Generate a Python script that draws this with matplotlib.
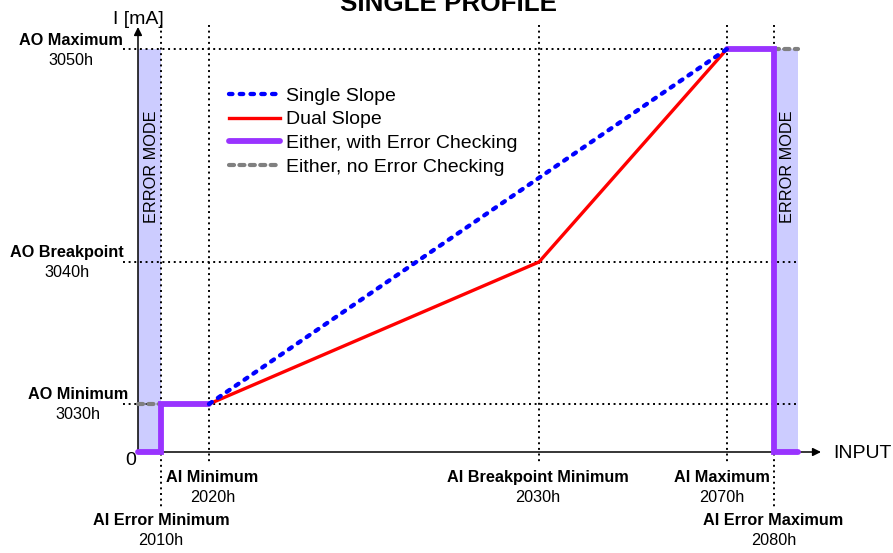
import matplotlib
matplotlib.use("Agg")
import matplotlib.pyplot as plt

plt.rcParams['font.family'] = ['Liberation Sans', 'DejaVu Sans']

# ---- data (positions measured in drawing units from the origin) ----
ai_labels = ["AI Error Minimum", "AI Minimum", "AI Breakpoint Minimum", "AI Maximum", "AI Error Maximum"]
ai_codes = ["2010h", "2020h", "2030h", "2070h", "2080h"]
ai_x = [23, 71, 401, 589, 636]

ao_labels = ["AO Minimum", "AO Breakpoint", "AO Maximum"]
ao_codes = ["3030h", "3040h", "3050h"]
ao_y = [48, 190, 403]

single_x = [71, 589]
single_y = [48, 403]
dual_x = [71, 401, 589]
dual_y = [48, 190, 403]
err_lo_x = [0, 23, 23, 71]
err_lo_y = [0, 0, 48, 48]
err_hi_x = [589, 636, 636, 660]
err_hi_y = [403, 403, 0, 0]
noerr_lo_x = [0, 23]
noerr_lo_y = [48, 48]
noerr_hi_x = [636, 660]
noerr_hi_y = [403, 403]
shade_lo_x = [0, 23]
shade_hi_x = [636, 660]
shade_top = 403

series_names = ["Single Slope", "Dual Slope", "Either, with Error Checking", "Either, no Error Checking"]

# ---- figure ----
fig = plt.figure(figsize=(8.93, 5.53), dpi=100)
ax = fig.add_axes([0, 0, 1, 1])
ax.set_xlim(-138, 755)
ax.set_ylim(-101, 452)
ax.axis('off')

shade_c = '#CCCCFF'
ax.fill_between(shade_lo_x, 0, shade_top, color=shade_c, lw=0, zorder=1)
ax.fill_between(shade_hi_x, 0, shade_top, color=shade_c, lw=0, zorder=1)

# dotted guide lines
dot = dict(color='black', lw=1.4, linestyle=(0, (1, 1.9)), zorder=2)
for y in ao_y:
    ax.plot([-15, 659], [y, y], **dot)
bottoms = [-56, -11, -11, -11, -56]
for x, b in zip(ai_x, bottoms):
    ax.plot([x, x], [427, b], **dot)

# axes with arrows
ax.annotate('', xy=(0, 425), xytext=(0, 0),
            arrowprops=dict(arrowstyle='-|>', color='black', lw=1.1, mutation_scale=12,
                            shrinkA=0, shrinkB=0), zorder=3)
ax.annotate('', xy=(683, 0), xytext=(0, 0),
            arrowprops=dict(arrowstyle='-|>', color='black', lw=1.1, mutation_scale=12,
                            shrinkA=0, shrinkB=0), zorder=3)

# series
gray_kw = dict(color='#808080', lw=3.0, dashes=(1.2, 1.3), dash_capstyle='round', zorder=4)
l_gray, = ax.plot(noerr_lo_x, noerr_lo_y, label=series_names[3], **gray_kw)
ax.plot(noerr_hi_x, noerr_hi_y, **gray_kw)

purple_kw = dict(color='#9933FF', lw=4.2, solid_capstyle='round', solid_joinstyle='miter', zorder=5)
l_purple, = ax.plot(err_lo_x, err_lo_y, label=series_names[2], **purple_kw)
ax.plot(err_hi_x, err_hi_y, **purple_kw)

l_red, = ax.plot(dual_x, dual_y, color='#FF0000', lw=2.4, label=series_names[1], zorder=6)
l_blue, = ax.plot(single_x, single_y, color='#0000FF', lw=3.1, dashes=(0.8, 1.7),
                  dash_capstyle='round', label=series_names[0], zorder=7)

leg = ax.legend(handles=[l_blue, l_red, l_purple, l_gray], loc='upper left',
                bbox_to_anchor=(91, 365), bbox_transform=ax.transData,
                frameon=False, fontsize=14, handlelength=2.6, handletextpad=0.35,
                labelspacing=0.32, borderpad=0, borderaxespad=0)

# titles / axis labels
ax.text(310, 441, "SINGLE PROFILE", fontsize=18.7, fontweight='bold', ha='center', va='baseline')
ax.text(0, 427.7, "I [mA]", fontsize=14, ha='center', va='baseline')
ax.text(-7, -13, "0", fontsize=14, ha='center', va='baseline')
ax.text(695, -6.3, "INPUT", fontsize=14, ha='left', va='baseline')

# AO labels (left)
ao_cx = [-60.2, -71, -67.5]
ao_base = [52.7, 195.3, 407]
for lab, code, cx, b in zip(ao_labels, ao_codes, ao_cx, ao_base):
    ax.text(cx, b, lab, fontsize=11.7, fontweight='bold', ha='center', va='baseline')
    ax.text(cx, b - 20, code, fontsize=11.7, ha='center', va='baseline')

# AI labels (bottom)
ai_cx = [23, 74.5, 400, 584, 635.3]
ai_base = [-73, -30.3, -30.3, -30.3, -73]
for lab, code, cx, b in zip(ai_labels, ai_codes, ai_cx, ai_base):
    ax.text(cx, b, lab, fontsize=11.7, fontweight='bold', ha='center', va='baseline')
    ax.text(cx, b - 20, code, fontsize=11.7, ha='center', va='baseline')

# error mode texts
ax.text(13.7, 285, "ERROR MODE", fontsize=11.7, rotation=90, ha='center', va='center')
ax.text(649.5, 285, "ERROR MODE", fontsize=11.7, rotation=90, ha='center', va='center')

fig.savefig('out.png', dpi=100)
